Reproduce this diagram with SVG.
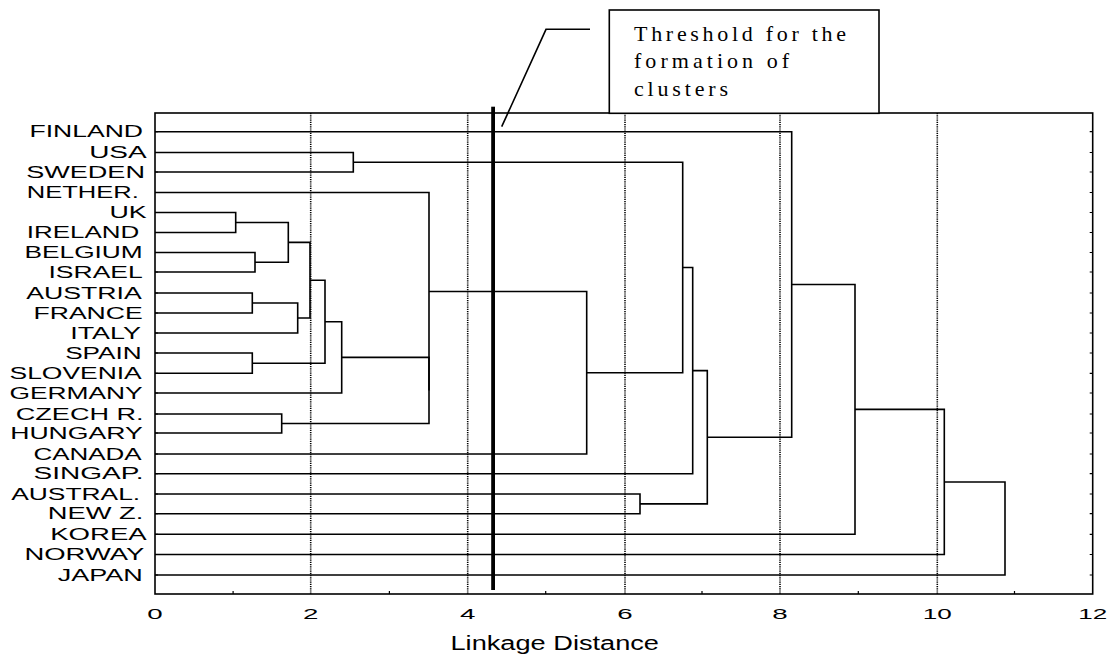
<svg xmlns="http://www.w3.org/2000/svg" width="1110" height="655" viewBox="0 0 1110 655">
<style>
.lbl{font-family:"Liberation Sans",Arial,sans-serif;font-size:16px;fill:#000}
.tk{font-family:"Liberation Sans",Arial,sans-serif;font-size:15.5px;fill:#000;text-anchor:middle}
.ax{font-family:"Liberation Sans",Arial,sans-serif;font-size:20px;fill:#000}
.cl{font-family:"Liberation Serif","Times New Roman",serif;font-size:22px;fill:#000}
.ln{fill:none;stroke:#000;stroke-width:1.6}
.grid{fill:none;stroke:#000;stroke-width:1.6;stroke-dasharray:1.2 1}
.tick{stroke:#000;stroke-width:1.2}
</style>
<rect width="1110" height="655" fill="#fff"/>
<g id="grid">
<path class="grid" d="M310.7 113V594M467.7 113V594M625 113V594M780 113V594M937.3 113V594"/>
</g>
<g id="frame">
<rect x="155" y="113" width="937.7" height="481" class="ln"/>
<path class="tick" d="M155 131.7h3M155 152.5h3M155 172h3M155 192.5h3M155 212.5h3M155 232.5h3M155 252.5h3M155 272h3M155 293h3M155 313h3M155 333h3M155 353h3M155 373.3h3M155 393h3M155 414h3M155 433h3M155 454h3M155 473.7h3M155 494h3M155 513.7h3M155 534.3h3M155 554.5h3M155 575h3"/>
<path class="tick" d="M1092.7 131.7h-3M1092.7 152.5h-3M1092.7 172h-3M1092.7 192.5h-3M1092.7 212.5h-3M1092.7 232.5h-3M1092.7 252.5h-3M1092.7 272h-3M1092.7 293h-3M1092.7 313h-3M1092.7 333h-3M1092.7 353h-3M1092.7 373.3h-3M1092.7 393h-3M1092.7 414h-3M1092.7 433h-3M1092.7 454h-3M1092.7 473.7h-3M1092.7 494h-3M1092.7 513.7h-3M1092.7 534.3h-3M1092.7 554.5h-3M1092.7 575h-3"/>
<path class="tick" d="M233.1 594v-3M389.4 594v-3M545.7 594v-3M702 594v-3M858.3 594v-3M1014.5 594v-3"/>
</g>
<g id="connectors">
<path class="ln" d="M155 152.5H353.3V172H155"/>
<path class="ln" d="M155 212.5H235.7V232.5H155"/>
<path class="ln" d="M155 252.5H255V272H155"/>
<path class="ln" d="M235.7 222.5H288.3V262.3H255"/>
<path class="ln" d="M155 293H252.3V313H155"/>
<path class="ln" d="M252.3 303H297.7V333H155"/>
<path class="ln" d="M288.3 242.4H310V318H297.7"/>
<path class="ln" d="M155 353H252.3V373.3H155"/>
<path class="ln" d="M310 280.2H325V363.2H252.3"/>
<path class="ln" d="M325 321.7H341.7V393H155"/>
<path class="ln" d="M155 414H281.7V433H155"/>
<path class="ln" d="M341.7 357.4H429V423.5H281.7"/>
<path class="ln" d="M155 192.5H429V390.5"/>
<path class="ln" d="M429 291.5H586.7V454H155"/>
<path class="ln" d="M353.3 162.3H682.7V372.8H586.7"/>
<path class="ln" d="M682.7 267.5H692.7V473.7H155"/>
<path class="ln" d="M155 494H640V513.7H155"/>
<path class="ln" d="M692.7 370.6H707.3V503.9H640"/>
<path class="ln" d="M155 131.7H791.7V437.2H707.3"/>
<path class="ln" d="M791.7 284.5H855V534.3H155"/>
<path class="ln" d="M855 409.4H944.3V554.5H155"/>
<path class="ln" d="M944.3 482H1005V575H155"/>
</g>
<g id="labels">
<g id="n-finland"><text class="lbl" x="29.5" y="137.4" textLength="113.5" lengthAdjust="spacingAndGlyphs">FINLAND</text></g>
<g id="n-usa"><text class="lbl" x="89.2" y="158.2" textLength="57.5" lengthAdjust="spacingAndGlyphs">USA</text></g>
<g id="n-sweden"><text class="lbl" x="26.2" y="177.7" textLength="118.8" lengthAdjust="spacingAndGlyphs">SWEDEN</text></g>
<g id="n-nether"><text class="lbl" x="26.8" y="198.2" textLength="112" lengthAdjust="spacingAndGlyphs">NETHER.</text></g>
<g id="n-uk"><text class="lbl" x="109.5" y="218.2" textLength="37.2" lengthAdjust="spacingAndGlyphs">UK</text></g>
<g id="n-ireland"><text class="lbl" x="26.8" y="238.2" textLength="112.5" lengthAdjust="spacingAndGlyphs">IRELAND</text></g>
<g id="n-belgium"><text class="lbl" x="24.5" y="258.2" textLength="118.2" lengthAdjust="spacingAndGlyphs">BELGIUM</text></g>
<g id="n-israel"><text class="lbl" x="48.5" y="277.7" textLength="94.2" lengthAdjust="spacingAndGlyphs">ISRAEL</text></g>
<g id="n-austria"><text class="lbl" x="26.2" y="298.7" textLength="115.5" lengthAdjust="spacingAndGlyphs">AUSTRIA</text></g>
<g id="n-france"><text class="lbl" x="33.5" y="318.7" textLength="109.2" lengthAdjust="spacingAndGlyphs">FRANCE</text></g>
<g id="n-italy"><text class="lbl" x="70.2" y="338.7" textLength="70.8" lengthAdjust="spacingAndGlyphs">ITALY</text></g>
<g id="n-spain"><text class="lbl" x="65.2" y="358.7" textLength="76.5" lengthAdjust="spacingAndGlyphs">SPAIN</text></g>
<g id="n-slovenia"><text class="lbl" x="9.5" y="379" textLength="132.2" lengthAdjust="spacingAndGlyphs">SLOVENIA</text></g>
<g id="n-germany"><text class="lbl" x="9.5" y="398.7" textLength="133.2" lengthAdjust="spacingAndGlyphs">GERMANY</text></g>
<g id="n-czech"><text class="lbl" x="15.8" y="419.7" textLength="127.8" lengthAdjust="spacingAndGlyphs">CZECH R.</text></g>
<g id="n-hungary"><text class="lbl" x="10.2" y="438.7" textLength="132.5" lengthAdjust="spacingAndGlyphs">HUNGARY</text></g>
<g id="n-canada"><text class="lbl" x="33.5" y="459.7" textLength="108.2" lengthAdjust="spacingAndGlyphs">CANADA</text></g>
<g id="n-singap"><text class="lbl" x="33.5" y="479.4" textLength="110" lengthAdjust="spacingAndGlyphs">SINGAP.</text></g>
<g id="n-austral"><text class="lbl" x="11.2" y="499.7" textLength="129" lengthAdjust="spacingAndGlyphs">AUSTRAL.</text></g>
<g id="n-newz"><text class="lbl" x="47.8" y="519.4" textLength="95.5" lengthAdjust="spacingAndGlyphs">NEW Z.</text></g>
<g id="n-korea"><text class="lbl" x="50.2" y="540" textLength="96.5" lengthAdjust="spacingAndGlyphs">KOREA</text></g>
<g id="n-norway"><text class="lbl" x="24.5" y="560.2" textLength="119.8" lengthAdjust="spacingAndGlyphs">NORWAY</text></g>
<g id="n-japan"><text class="lbl" x="57.8" y="580.7" textLength="85" lengthAdjust="spacingAndGlyphs">JAPAN</text></g>
</g>
<g id="axis-labels">
<text class="tk" x="155" y="619" textLength="15.4" lengthAdjust="spacingAndGlyphs">0</text>
<text class="tk" x="310.7" y="619" textLength="15.4" lengthAdjust="spacingAndGlyphs">2</text>
<text class="tk" x="467.7" y="619" textLength="15.4" lengthAdjust="spacingAndGlyphs">4</text>
<text class="tk" x="625" y="619" textLength="15.4" lengthAdjust="spacingAndGlyphs">6</text>
<text class="tk" x="780" y="619" textLength="15.4" lengthAdjust="spacingAndGlyphs">8</text>
<text class="tk" x="937.3" y="619" textLength="29" lengthAdjust="spacingAndGlyphs">10</text>
<text class="tk" x="1092.7" y="619" textLength="29" lengthAdjust="spacingAndGlyphs">12</text>
<text class="ax" x="450.5" y="650" textLength="208.5" lengthAdjust="spacingAndGlyphs">Linkage Distance</text>
</g>
<g id="threshold">
<rect x="491.2" y="106.7" width="3.8" height="483.3" fill="#000"/>
</g>
<g id="callout">
<path class="ln" d="M501.7 126.7L546 29.3H590"/>
<rect x="609.3" y="10" width="269.7" height="103.3" fill="#fff" stroke="#000" stroke-width="1.6"/>
<text class="cl" x="634" y="41" textLength="212" lengthAdjust="spacing">Threshold for the</text>
<text class="cl" x="634" y="68" textLength="155" lengthAdjust="spacing">formation of</text>
<text class="cl" x="634" y="96" textLength="94" lengthAdjust="spacing">clusters</text>
</g>
</svg>
